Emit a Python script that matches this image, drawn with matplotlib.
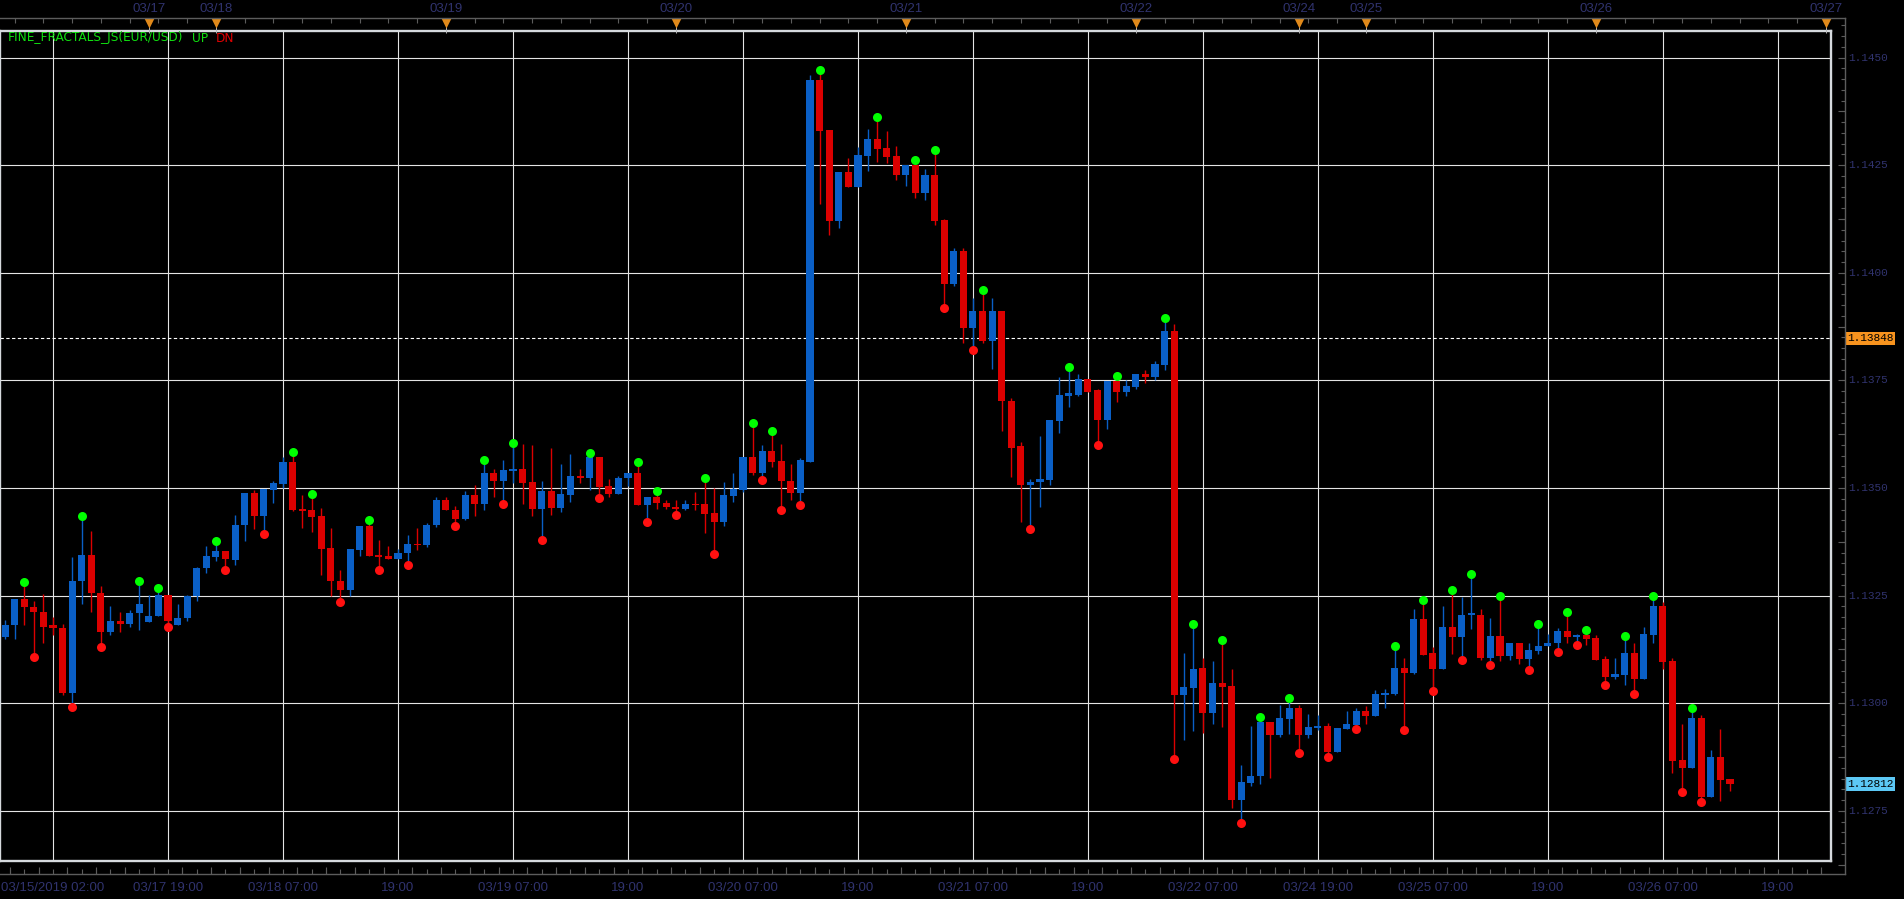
import numpy as np
import matplotlib
matplotlib.use("Agg")
import matplotlib.pyplot as plt
from matplotlib.lines import Line2D
from matplotlib.transforms import blended_transform_factory as blend

# EUR/USD hourly bars from 03/15/2019 02:00 (bar index = position on the chart)
opens = [
    1.13153, 1.13181, 1.13243, 1.13224, 1.13213, 1.13181, 1.13175, 1.13023, 1.13283, 1.13345,
    1.13257, 1.13165, 1.13192, 1.13185, 1.13209, 1.13188, 1.13202, 1.13252, 1.13182, 1.13197,
    1.13248, 1.13313, 1.13340, 1.13354, 1.13333, 1.13413, 1.13489, 1.13434, 1.13496, 1.13510,
    1.13561, 1.13452, 1.13449, 1.13435, 1.13361, 1.13285, 1.13264, 1.13357, 1.13412, 1.13345,
    1.13343, 1.13336, 1.13349, 1.13370, 1.13367, 1.13414, 1.13471, 1.13450, 1.13427, 1.13483,
    1.13463, 1.13536, 1.13516, 1.13539, 1.13545, 1.13513, 1.13451, 1.13494, 1.13453, 1.13483,
    1.13529, 1.13523, 1.13571, 1.13504, 1.13486, 1.13523, 1.13534, 1.13460, 1.13480, 1.13466,
    1.13457, 1.13451, 1.13464, 1.13462, 1.13441, 1.13421, 1.13481, 1.13495, 1.13571, 1.13534,
    1.13587, 1.13562, 1.13517, 1.13488, 1.13561, 1.14447, 1.14331, 1.14120, 1.14234, 1.14199,
    1.14271, 1.14310, 1.14289, 1.14271, 1.14227, 1.14250, 1.14185, 1.14227, 1.14122, 1.13974,
    1.14050, 1.13871, 1.13911, 1.13841, 1.13911, 1.13703, 1.13597, 1.13508, 1.13513, 1.13518,
    1.13655, 1.13713, 1.13717, 1.13754, 1.13727, 1.13657, 1.13748, 1.13724, 1.13734, 1.13766,
    1.13757, 1.13785, 1.13864, 1.13018, 1.13035, 1.13081, 1.12977, 1.13046, 1.13039, 1.12775,
    1.12814, 1.12830, 1.12956, 1.12926, 1.12963, 1.12988, 1.12926, 1.12942, 1.12946, 1.12887,
    1.12940, 1.12949, 1.12981, 1.12970, 1.13019, 1.13021, 1.13081, 1.13070, 1.13195, 1.13116,
    1.13079, 1.13176, 1.13154, 1.13205, 1.13206, 1.13104, 1.13155, 1.13109, 1.13139, 1.13103,
    1.13121, 1.13133, 1.13140, 1.13167, 1.13154, 1.13158, 1.13151, 1.13102, 1.13061, 1.13065,
    1.13116, 1.13056, 1.13158, 1.13225, 1.13097, 1.12867, 1.12849, 1.12965, 1.12782, 1.12874,
    1.12825,
]
highs = [
    1.13194, 1.13243, 1.13273, 1.13238, 1.13254, 1.13201, 1.13185, 1.13340, 1.13425, 1.13399,
    1.13273, 1.13226, 1.13213, 1.13217, 1.13275, 1.13252, 1.13259, 1.13252, 1.13231, 1.13252,
    1.13316, 1.13365, 1.13368, 1.13354, 1.13438, 1.13489, 1.13496, 1.13498, 1.13517, 1.13571,
    1.13574, 1.13484, 1.13476, 1.13454, 1.13408, 1.13310, 1.13359, 1.13412, 1.13416, 1.13380,
    1.13366, 1.13359, 1.13390, 1.13408, 1.13419, 1.13478, 1.13478, 1.13459, 1.13492, 1.13506,
    1.13555, 1.13545, 1.13566, 1.13596, 1.13603, 1.13601, 1.13517, 1.13594, 1.13555, 1.13578,
    1.13545, 1.13573, 1.13571, 1.13522, 1.13529, 1.13534, 1.13552, 1.13480, 1.13485, 1.13471,
    1.13471, 1.13471, 1.13490, 1.13515, 1.13501, 1.13513, 1.13536, 1.13571, 1.13643, 1.13601,
    1.13624, 1.13603, 1.13555, 1.13569, 1.14459, 1.14463, 1.14331, 1.14234, 1.14266, 1.14292,
    1.14334, 1.14354, 1.14329, 1.14294, 1.14250, 1.14253, 1.14241, 1.14277, 1.14124, 1.14057,
    1.14057, 1.13941, 1.13950, 1.13941, 1.13911, 1.13710, 1.13608, 1.13520, 1.13620, 1.13659,
    1.13759, 1.13771, 1.13764, 1.13754, 1.13731, 1.13748, 1.13752, 1.13750, 1.13766, 1.13775,
    1.13796, 1.13887, 1.13880, 1.13116, 1.13176, 1.13104, 1.13097, 1.13139, 1.13079, 1.12856,
    1.12946, 1.12958, 1.12956, 1.12995, 1.13004, 1.12997, 1.12976, 1.12972, 1.12953, 1.12942,
    1.12983, 1.12990, 1.12993, 1.13030, 1.13034, 1.13123, 1.13106, 1.13218, 1.13230, 1.13130,
    1.13227, 1.13253, 1.13246, 1.13292, 1.13220, 1.13197, 1.13241, 1.13139, 1.13139, 1.13139,
    1.13174, 1.13160, 1.13174, 1.13202, 1.13160, 1.13162, 1.13158, 1.13109, 1.13106, 1.13148,
    1.13141, 1.13176, 1.13239, 1.13236, 1.13104, 1.12951, 1.12981, 1.12972, 1.12891, 1.12940,
    1.12825,
]
lows = [
    1.13150, 1.13150, 1.13181, 1.13117, 1.13139, 1.13159, 1.13018, 1.13000, 1.13231, 1.13211,
    1.13140, 1.13158, 1.13165, 1.13178, 1.13169, 1.13188, 1.13202, 1.13185, 1.13182, 1.13190,
    1.13237, 1.13302, 1.13330, 1.13318, 1.13322, 1.13376, 1.13405, 1.13403, 1.13466, 1.13499,
    1.13447, 1.13408, 1.13397, 1.13297, 1.13248, 1.13244, 1.13250, 1.13343, 1.13343, 1.13319,
    1.13336, 1.13336, 1.13330, 1.13357, 1.13363, 1.13409, 1.13449, 1.13421, 1.13425, 1.13436,
    1.13449, 1.13479, 1.13473, 1.13511, 1.13462, 1.13435, 1.13388, 1.13437, 1.13444, 1.13467,
    1.13511, 1.13495, 1.13485, 1.13479, 1.13486, 1.13504, 1.13460, 1.13430, 1.13451, 1.13452,
    1.13447, 1.13449, 1.13449, 1.13395, 1.13355, 1.13411, 1.13467, 1.13490, 1.13531, 1.13528,
    1.13548, 1.13458, 1.13472, 1.13470, 1.13561, 1.14159, 1.14087, 1.14104, 1.14199, 1.14199,
    1.14236, 1.14257, 1.14255, 1.14215, 1.14201, 1.14173, 1.14169, 1.14111, 1.13927, 1.13969,
    1.13836, 1.13830, 1.13838, 1.13776, 1.13632, 1.13525, 1.13420, 1.13414, 1.13455, 1.13508,
    1.13627, 1.13689, 1.13713, 1.13724, 1.13610, 1.13638, 1.13699, 1.13713, 1.13729, 1.13743,
    1.13752, 1.13775, 1.12879, 1.12914, 1.12935, 1.12931, 1.12952, 1.12945, 1.12757, 1.12731,
    1.12808, 1.12812, 1.12826, 1.12921, 1.12928, 1.12893, 1.12919, 1.12938, 1.12885, 1.12887,
    1.12940, 1.12949, 1.12952, 1.12970, 1.12989, 1.13019, 1.12947, 1.13068, 1.13113, 1.13038,
    1.13079, 1.13114, 1.13110, 1.13172, 1.13100, 1.13097, 1.13099, 1.13100, 1.13091, 1.13087,
    1.13114, 1.13133, 1.13128, 1.13140, 1.13144, 1.13135, 1.13100, 1.13052, 1.13056, 1.13042,
    1.13031, 1.13056, 1.13140, 1.13079, 1.12838, 1.12803, 1.12849, 1.12780, 1.12782, 1.12773,
    1.12795,
]
closes = [
    1.13182, 1.13243, 1.13223, 1.13211, 1.13178, 1.13174, 1.13023, 1.13285, 1.13345, 1.13255,
    1.13165, 1.13192, 1.13185, 1.13210, 1.13231, 1.13203, 1.13252, 1.13190, 1.13199, 1.13250,
    1.13315, 1.13343, 1.13354, 1.13334, 1.13415, 1.13489, 1.13434, 1.13498, 1.13512, 1.13561,
    1.13449, 1.13447, 1.13433, 1.13359, 1.13283, 1.13264, 1.13359, 1.13412, 1.13343, 1.13340,
    1.13336, 1.13350, 1.13369, 1.13367, 1.13415, 1.13471, 1.13449, 1.13428, 1.13483, 1.13463,
    1.13536, 1.13516, 1.13541, 1.13545, 1.13511, 1.13451, 1.13494, 1.13453, 1.13485, 1.13529,
    1.13523, 1.13571, 1.13502, 1.13486, 1.13524, 1.13534, 1.13460, 1.13480, 1.13465, 1.13456,
    1.13451, 1.13464, 1.13460, 1.13439, 1.13421, 1.13483, 1.13497, 1.13571, 1.13534, 1.13587,
    1.13560, 1.13516, 1.13488, 1.13564, 1.14447, 1.14329, 1.14120, 1.14234, 1.14199, 1.14273,
    1.14310, 1.14287, 1.14269, 1.14227, 1.14250, 1.14185, 1.14227, 1.14120, 1.13974, 1.14050,
    1.13871, 1.13911, 1.13841, 1.13911, 1.13702, 1.13594, 1.13508, 1.13515, 1.13520, 1.13657,
    1.13715, 1.13720, 1.13754, 1.13724, 1.13657, 1.13748, 1.13724, 1.13736, 1.13766, 1.13757,
    1.13787, 1.13864, 1.13018, 1.13037, 1.13079, 1.12977, 1.13046, 1.13038, 1.12775, 1.12816,
    1.12832, 1.12956, 1.12926, 1.12965, 1.12988, 1.12926, 1.12944, 1.12946, 1.12887, 1.12942,
    1.12951, 1.12981, 1.12970, 1.13021, 1.13023, 1.13081, 1.13070, 1.13195, 1.13113, 1.13079,
    1.13176, 1.13154, 1.13206, 1.13207, 1.13104, 1.13155, 1.13109, 1.13139, 1.13103, 1.13123,
    1.13134, 1.13141, 1.13167, 1.13154, 1.13158, 1.13149, 1.13100, 1.13061, 1.13067, 1.13116,
    1.13056, 1.13160, 1.13225, 1.13096, 1.12866, 1.12849, 1.12965, 1.12782, 1.12874, 1.12822,
    1.12812,
]

# FINE_FRACTALS_JS marks (bar indices)
up_fractals = [2, 8, 14, 16, 22, 30, 32, 38, 50, 53, 61, 66, 68, 73, 78, 80, 85, 91, 95, 97,
               102, 111, 116, 121, 124, 127, 131, 134, 145, 148, 151, 153, 156, 160, 163, 165,
               169, 172, 176]
down_fractals = [3, 7, 10, 17, 23, 27, 35, 39, 42, 47, 52, 56, 62, 67, 70, 74, 79, 81, 83, 98,
                 101, 107, 114, 122, 129, 135, 138, 141, 146, 149, 152, 155, 159, 162, 164, 167,
                 170, 175, 177]

# time axis
time_bars = [5, 17, 29, 41, 53, 65, 77, 89, 101, 113, 125, 137, 149, 161, 173, 185]
time_labels = ["03/15/2019 02:00", "03/17 19:00", "03/18 07:00", "19:00", "03/19 07:00", "19:00",
               "03/20 07:00", "19:00", "03/21 07:00", "19:00", "03/22 07:00", "03/24 19:00",
               "03/25 07:00", "19:00", "03/26 07:00", "19:00"]
day_bars = [15, 22, 46, 70, 94, 118, 135, 142, 166, 190]
day_labels = ["03/17", "03/18", "03/19", "03/20", "03/21", "03/22", "03/24", "03/25", "03/26", "03/27"]

price_levels = [1.1275, 1.1300, 1.1325, 1.1350, 1.1375, 1.1400, 1.1425, 1.1450]
marked_price = 1.13848
last_price = 1.12812

BLUE = "#0a5fc6"
RED = "#dc0000"
NAVY = "#30336e"
AXGRAY = "#5c5c5c"

W, H = 1904, 899


def fx(px):
    return px / W


def fy(py):
    return 1 - py / H


fig = plt.figure(figsize=(W / 100, H / 100), dpi=100, facecolor="black")
ax = fig.add_axes([0, fy(861), fx(1831), fy(30.7) - fy(861)])
ax.set_facecolor("black")

o = np.array(opens)
h = np.array(highs)
l = np.array(lows)
c = np.array(closes)
x = np.arange(len(o))
cols = np.where(c > o, BLUE, RED)

ax.vlines(x, l, h, colors=cols, lw=1.0, zorder=3)
ax.bar(x, np.maximum(np.abs(c - o), 0.00004), bottom=np.minimum(o, c), width=0.74,
       color=cols, linewidth=0, zorder=4)

uf = np.array(up_fractals)
df = np.array(down_fractals)
ax.plot(uf, h[uf] + 0.00009, "o", color="#00ff00", ms=6.5, mec="none", zorder=5)
ax.plot(df, l[df] - 0.00009, "o", color="#ff1010", ms=6.5, mec="none", zorder=5)

ax.axhline(marked_price, color="white", lw=0.8, ls=(0, (3, 2.2)), zorder=2)

ax.set_xticks(time_bars)
ax.set_yticks(price_levels)
ax.grid(True, color="#e4e4e4", lw=0.8)
ax.set_axisbelow(True)
ax.tick_params(length=0, labelbottom=False, labelleft=False)
for s in ax.spines.values():
    s.set_color("#d6dade")
    s.set_linewidth(1.7)

ax.set_xlim(-0.53, 190.54)
ax.set_ylim(1.126334, 1.145625)

top_tr = blend(ax.transData, fig.transFigure)
right_tr = blend(fig.transFigure, ax.transData)

# frame of the scales
fig.add_artist(Line2D([0, fx(1845)], [fy(18), fy(18)], color=AXGRAY, lw=1))
fig.add_artist(Line2D([fx(1845), fx(1845)], [fy(18), fy(874)], color=AXGRAY, lw=1))
fig.add_artist(Line2D([0, fx(1845)], [fy(874), fy(874)], color=AXGRAY, lw=1))

# top scale: ticks, day markers
ax.vlines(np.arange(1, 191, 3), fy(18), fy(23), colors=AXGRAY, lw=0.8,
          transform=top_tr, clip_on=False)
ax.vlines(day_bars, fy(22), fy(33), colors="#b8b8b8", lw=0.7, transform=top_tr,
          clip_on=False, zorder=6)
ax.plot(day_bars, [fy(23)] * len(day_bars), "v", color="#e0891a", ms=6.5, mec="none",
        transform=top_tr, clip_on=False, zorder=7)
for b, t in zip(day_bars, day_labels):
    ax.text(b, fy(9), t, transform=top_tr, ha="center", va="center", color=NAVY,
            fontsize=9.5, family="Liberation Sans")

# bottom scale
bt = np.arange(0.5, 191, 1.5)
ax.vlines(bt, fy(874), fy(869), colors=AXGRAY, lw=0.8, transform=top_tr, clip_on=False)
ax.vlines(bt[::2], fy(874), fy(867), colors=AXGRAY, lw=0.8, transform=top_tr, clip_on=False)
for b, t in zip(time_bars, time_labels):
    ax.text(b, fy(888), t, transform=top_tr, ha="center", va="center", color=NAVY,
            fontsize=9.5, family="Liberation Sans")

# right price scale
pt = np.arange(1.12625, 1.14590, 0.00025)
ax.hlines(pt, fx(1841), fx(1845), colors=AXGRAY, lw=0.8, transform=right_tr, clip_on=False)
ax.hlines(pt[::5], fx(1838), fx(1845), colors=AXGRAY, lw=0.8, transform=right_tr, clip_on=False)
for p in price_levels:
    ax.text(fx(1848), p, f"{p:.4f}", transform=right_tr, ha="left", va="center",
            color=NAVY, fontsize=8, family="Liberation Mono")
for p, bg in [(marked_price, "#f7931e"), (last_price, "#5cc8f5")]:
    ax.text(fx(1847), p, f"{p:.5f}", transform=right_tr, ha="left", va="center",
            color="black", fontsize=8, family="Liberation Mono", zorder=8,
            bbox=dict(boxstyle="square,pad=0.15", fc=bg, ec="none"))

# indicator caption
fig.text(fx(8), fy(38), "FINE_FRACTALS_JS(EUR/USD)", color="#10e010", fontsize=8.7,
         va="center", family="DejaVu Sans")
fig.text(fx(192), fy(38), "UP", color="#10e010", fontsize=8.7, va="center", family="DejaVu Sans")
fig.text(fx(215.5), fy(38), "DN", color="#e00000", fontsize=8.7, va="center", family="DejaVu Sans")

fig.savefig("out.png", dpi=100, facecolor="black")
